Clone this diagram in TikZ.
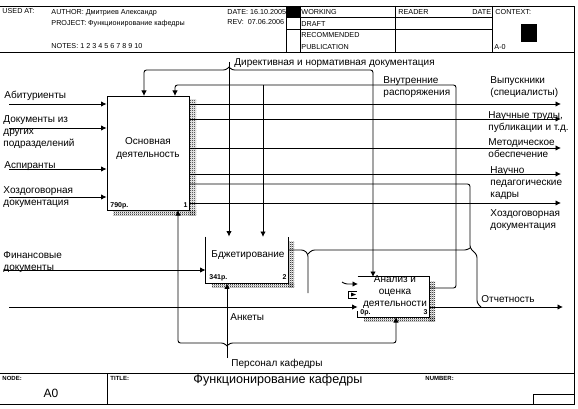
\documentclass[tikz,border=0pt]{standalone}
\usepackage{fontspec}
\setmainfont{Liberation Sans}
\usetikzlibrary{arrows.meta,patterns}
\pgfdeclarepatternformonly{dither}{\pgfqpoint{0pt}{0pt}}{\pgfqpoint{2pt}{2pt}}{\pgfqpoint{2pt}{2pt}}{%
  \pgfpathrectangle{\pgfqpoint{0pt}{0pt}}{\pgfqpoint{1pt}{1pt}}%
  \pgfpathrectangle{\pgfqpoint{1pt}{1pt}}{\pgfqpoint{1pt}{1pt}}%
  \pgfusepath{fill}}
\tikzset{
  x=1pt,y=-1pt,
  every path/.style={line width=0.9pt},
  frame/.style={line width=0.9pt},
  lbl/.style={anchor=north west,inner sep=0pt,align=left,font=\fontsize{10}{12}\selectfont},
  hdr/.style={anchor=west,inner sep=0pt,text height=6pt,text depth=0pt,font=\fontsize{7.2}{9}\selectfont},
  capsmall/.style={anchor=west,inner sep=0pt,text height=5pt,text depth=0pt,font=\bfseries\fontsize{6}{7}\selectfont},
  boxtext/.style={inner sep=0pt,align=center,font=\fontsize{10}{12}\selectfont},
  shade/.style={pattern=dither,draw=none},
  flow/.style={rounded corners=2.5pt,-{Latex[length=5.5pt,width=5.5pt]}},
  plain/.style={rounded corners=2.5pt},
  cost/.style={anchor=west,inner sep=0pt,text height=5pt,text depth=0pt,font=\bfseries\fontsize{7}{8}\selectfont},
}
\begin{document}
\begin{tikzpicture}
\useasboundingbox (0,0) rectangle (578,409);
\fill[white] (0,0) rectangle (578,409);
% frame
\draw[frame] (0,6) -- (574,6) -- (574,404) -- (0,404);
\draw[frame] (0,52) -- (574,52);
\draw[frame] (0,373) -- (574,373);
\draw[frame] (107,373) -- (107,404);
\draw[frame] (533,404) -- (533,394) -- (574,394);
% status block
\draw[frame] (286,6) -- (286,52);
\draw[frame] (300,6) -- (300,52);
\draw[frame] (395,6) -- (395,52);
\draw[frame] (492,6) -- (492,52);
\draw[frame] (300,17.5) -- (492,17.5);
\draw[frame] (286,29) -- (492,29);
\fill (286,6) rectangle (300,18);
\fill (521,24) rectangle (537,42);
% header text
\node[hdr] (usedat) at (2,11) {USED AT:};
\node[hdr] (author) at (51,11.5) {AUTHOR: Дмитриев Александр};
\node[hdr] (project) at (51,22.5) {PROJECT: Функционирование кафедры};
\node[hdr] (notes) at (51,45.5) {NOTES: 1 2 3 4 5 6 7 8 9 10};
\node[hdr] (date) at (227,11.5) {DATE: 16.10.2005};
\node[hdr] (rev) at (227,21.5) {REV: \ 07.06.2006};
\node[hdr] (working) at (301,11.5) {WORKING};
\node[hdr] (draft) at (301,23.5) {DRAFT};
\node[hdr] (recommended) at (301,35) {RECOMMENDED};
\node[hdr] (publication) at (301,46.5) {PUBLICATION};
\node[hdr] (reader) at (398,11.5) {READER};
\node[hdr] (datecol) at (472,11.5) {DATE};
\node[hdr] (context) at (495,11.5) {CONTEXT:};
\node[hdr] (ctxnode) at (494,46.5) {A-0};
% footer text
\node[capsmall] (nodecap) at (2,378) {NODE:};
\node[capsmall] (titlecap) at (110,378) {TITLE:};
\node[capsmall] (numbercap) at (425,378) {NUMBER:};
\node[inner sep=0pt,font=\fontsize{12}{14}\selectfont] (nodeval) at (51,393) {A0};
\node[inner sep=0pt,anchor=west,font=\fontsize{12.6}{15}\selectfont] (title) at (193,380) {Функционирование кафедры};
% shadows
\fill[shade] (189,100) rectangle (196,215);
\fill[shade] (113,210) rectangle (196,215);
\fill[shade] (288,241) rectangle (294,287);
\fill[shade] (212,283) rectangle (294,287);
\fill[shade] (429,281) rectangle (435,321);
\fill[shade] (364,317) rectangle (435,321);
% boxes
\node[draw,line width=0.9pt,minimum width=82pt,minimum height=114pt,inner sep=0pt] (main) at (148,153) {};
\node[boxtext] (maintext) at (148,149) {Основная\\[1pt]деятельность};
\node[minimum width=82pt,minimum height=46pt,inner sep=0pt] (budget) at (247,260) {};
\draw (budget.north west) -- (budget.south west) -- (budget.south east) -- (budget.north east);
\node[boxtext] (budgettext) at (248,255) {Бджетирование};
\node[minimum width=71pt,minimum height=40pt,inner sep=0pt] (analysis) at (393.5,297) {};
\draw (analysis.north west) -- (analysis.north east) -- (analysis.south east) -- (analysis.south west) -- ++(0,-6);
\node[boxtext] (analysistext) at (395,292) {Анализ и\\оценка\\деятельности};
\node[cost] (c1) at (110,205) {790р.};
\node[cost,anchor=east] (n1) at (188,205) {1};
\node[cost] (c2) at (209,277) {341р.};
\node[cost,anchor=east] (n2) at (287,277) {2};
\node[cost] (c3) at (360,312) {0р.};
\node[cost,anchor=east] (n3) at (428,312) {3};
% tunnel icon
\draw (357,291) -- (348.5,291) -- (348.5,298) -- (357,298);
\fill (351,292.5) -- (356,294.5) -- (351,296.5) -- cycle;
% free ends
\coordinate (i1) at (9,104);
\coordinate (i2) at (9,128);
\coordinate (i3) at (9,169);
\coordinate (i4) at (9,197);
\coordinate (i5) at (4,270);
\coordinate (i6) at (9,307);
\coordinate (o1) at (561,104);
\coordinate (o2) at (561,119);
\coordinate (o3) at (561,148);
\coordinate (o4) at (561,174);
\coordinate (o5) at (561,203);
\coordinate (o6) at (563,307);
\coordinate (dirsrc) at (229,62);
\coordinate (persrc) at (227,358);
% inputs
\foreach \c in {i1,i2,i3,i4} \draw[flow] (\c) -- (\c -| main.west);
\draw[flow] (i5) -- (i5 -| budget.west);
\draw[flow] (i6) -- (i6 -| analysis.west);
% outputs of main
\foreach \c in {o1,o2,o3,o4,o5} \draw[flow] (\c -| main.east) -- (\c);
\draw[plain] (main.east |- 0,184) -- (470,184) -- (470,248) -- (477,255) -- (477,303) -- (481,307);
% controls
\draw[flow] (dirsrc) -- (dirsrc |- budget.north);
\draw[flow] (229,67) -- (226,70) -- (144,70) -- (144,96);
\draw[flow] (229,67) -- (232,70) -- (373,70) -- (373,277);
% feedback from analysis
\draw[flow] (analysis.east |- 0,288) -- (456,288) -- (456,85) -- (175,85) -- (175,96);
\draw[flow] (263,85) -- (263,237);
% budget output
\draw[plain] (budget.east |- 0,250) -- (304,250) -- (308,254) -- (308,293);
\draw[plain] (308,254) -- (312,250) -- (467,250) -- (470,248);
\draw[flow] (342,282) -- (345,284) -- (358,284);
% analysis output
\draw[flow] (analysis.east |- o6) -- (o6);
% mechanisms
\draw[flow] (persrc) -- (persrc |- budget.south);
\draw[flow] (227,346) -- (224,343) -- (178,343) -- (178,210);
\draw[flow] (227,346) -- (230,343) -- (396,343) -- (396,317);
% arrow labels
\node[lbl] (l1) at (4,91) {Абитуриенты};
\node[lbl] (l2) at (3,115) {Документы из\\других\\подразделений};
\node[lbl] (l3) at (4,161) {Аспиранты};
\node[lbl] (l4) at (3,186) {Хоздоговорная\\документация};
\node[lbl] (l5) at (3,251) {Финансовые\\документы};
\node[lbl] (l6) at (234,58) {Директивная и нормативная документация};
\node[lbl] (l7) at (383,76) {Внутренние\\распоряжения};
\node[lbl] (l8) at (490,76) {Выпускники\\(специалисты)};
\node[lbl] (l9) at (488,111) {Научные труды,\\публикации и т.д.};
\node[lbl] (l10) at (488,138) {Методическое\\обеспечение};
\node[lbl] (l11) at (490,166) {Научно\\педагогические\\кадры};
\node[lbl] (l12) at (490,209) {Хоздоговорная\\документация};
\node[lbl] (l13) at (481,295) {Отчетность};
\node[lbl] (l14) at (230,313) {Анкеты};
\node[lbl] (l15) at (231,359) {Персонал кафедры};
\end{tikzpicture}
\end{document}
